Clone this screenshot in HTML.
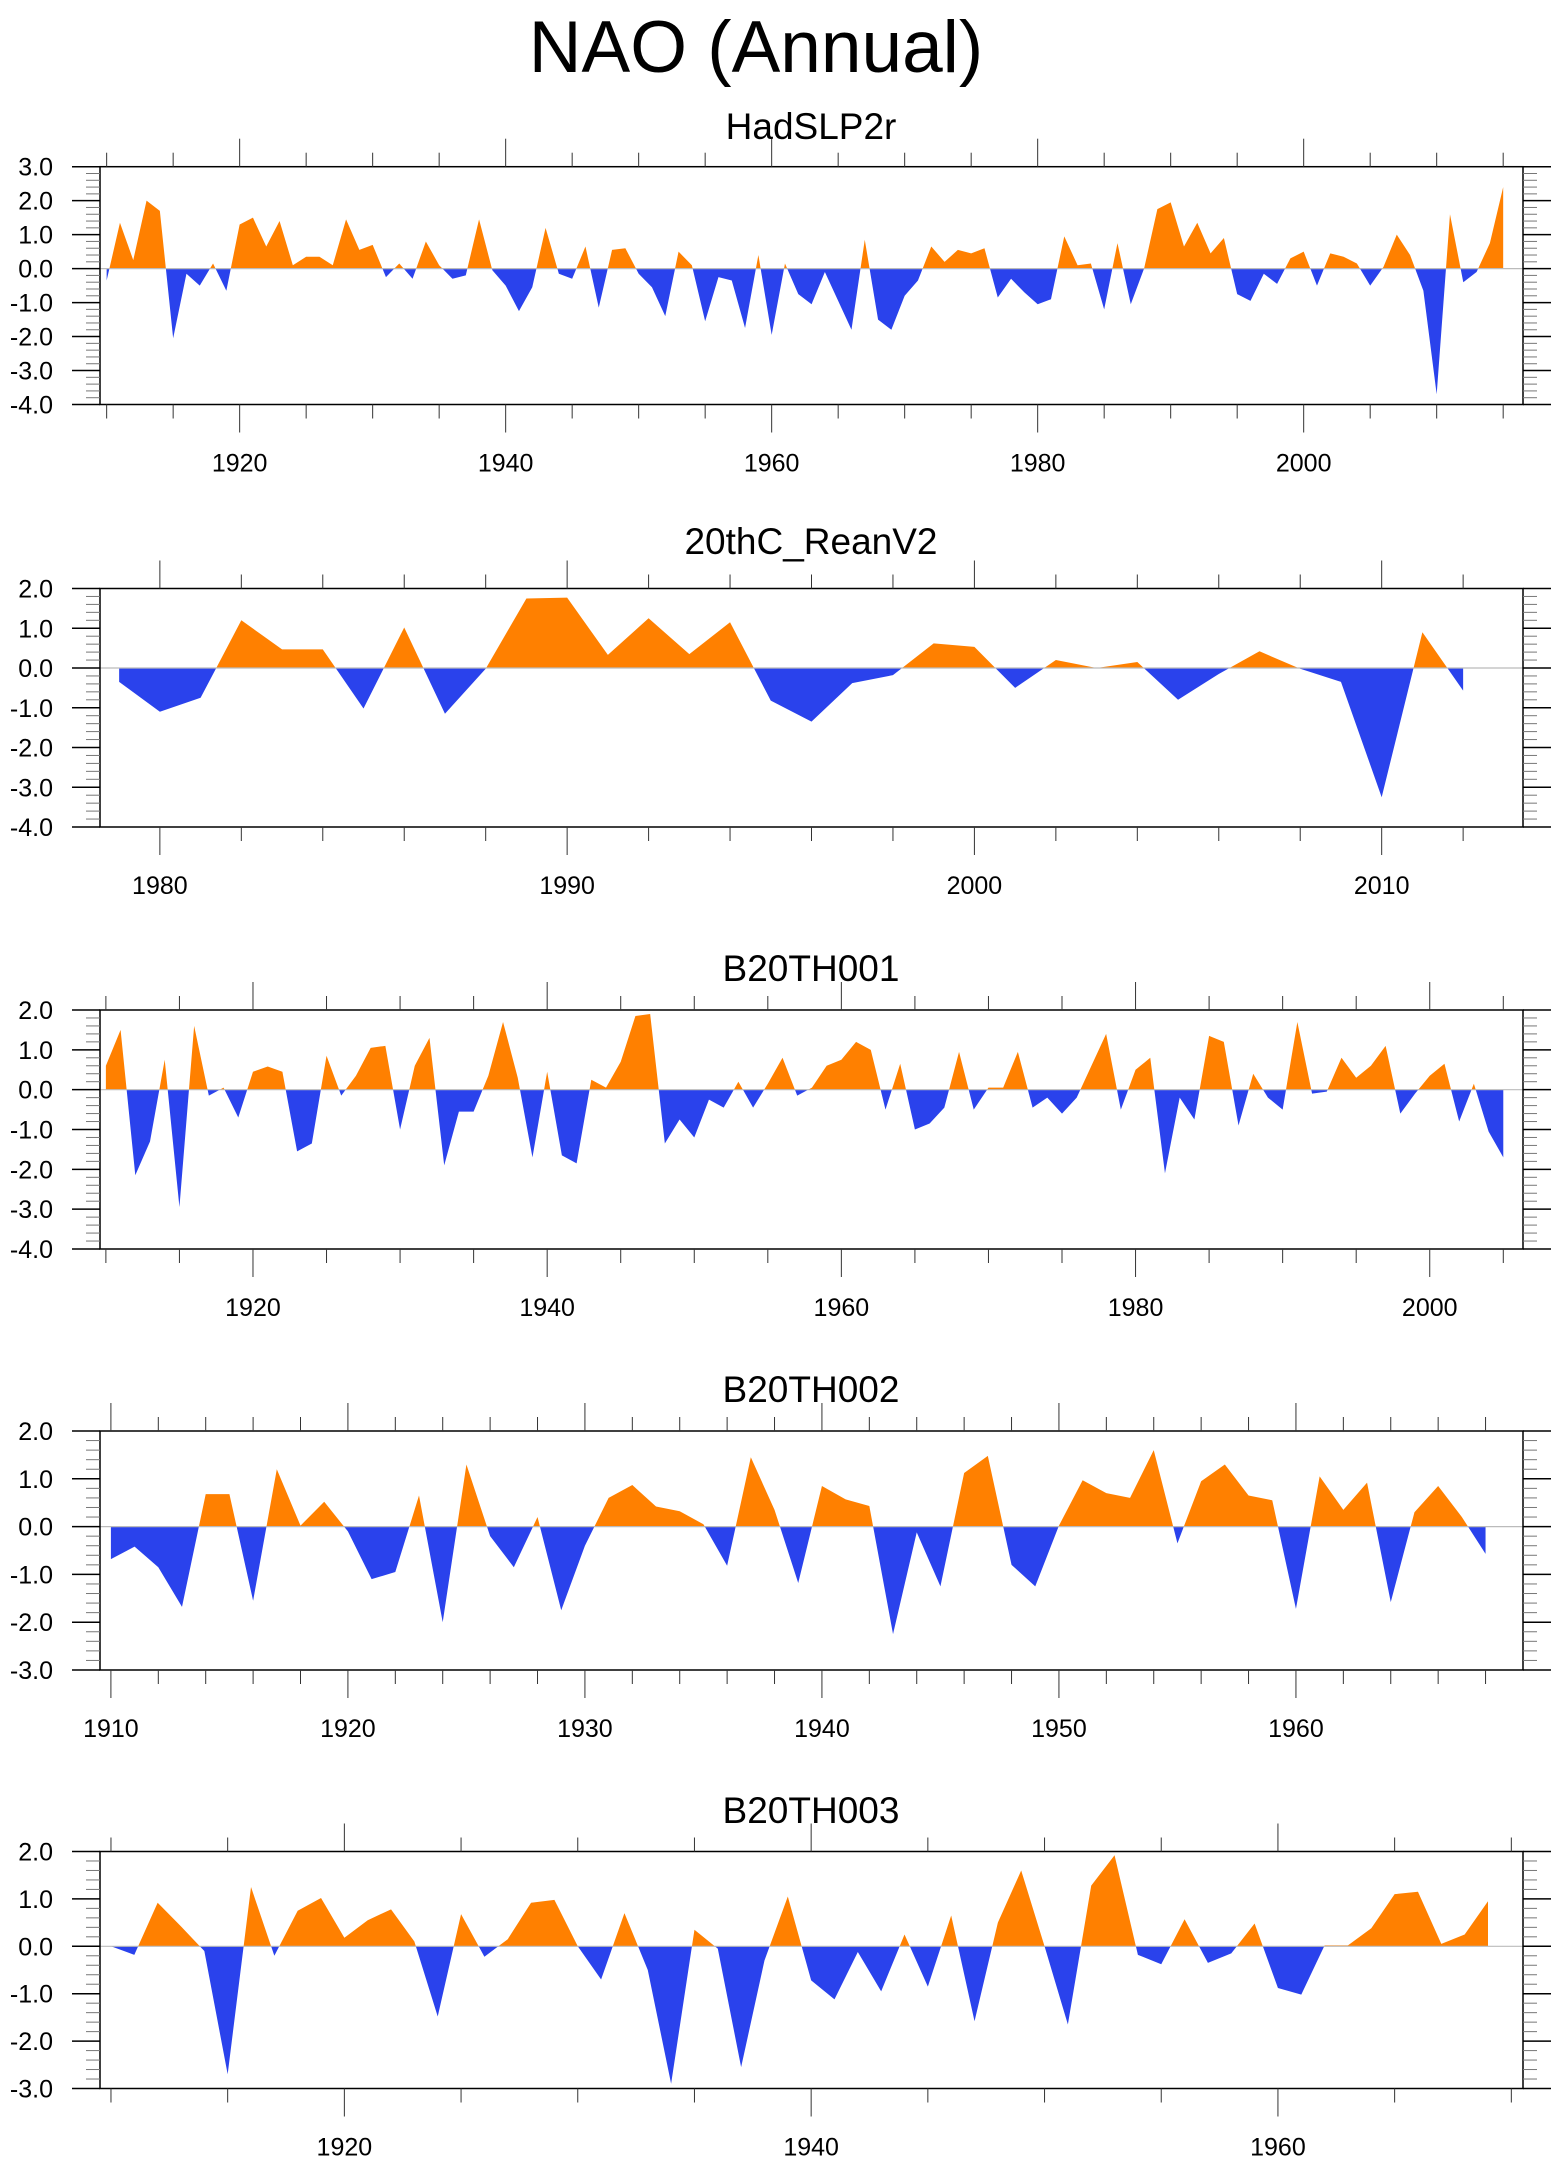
<!DOCTYPE html>
<html><head><meta charset="utf-8"><title>NAO (Annual)</title>
<style>
html,body{margin:0;padding:0;background:#fff;}
svg{display:block;font-family:"Liberation Sans",Arial,sans-serif;}
</style></head>
<body>
<svg id="chart" width="1560" height="2165" viewBox="0 0 1560 2165" xmlns="http://www.w3.org/2000/svg">
<text x="756" y="72" font-size="73" text-anchor="middle" fill="#000">NAO (Annual)</text>
</svg>
<script>
// ---------- data ----------
const hadStart = 1910;
const hadValues = [-0.35,1.35,0.25,2.0,1.7,-2.05,-0.15,-0.5,0.15,-0.65,
1.3,1.5,0.65,1.4,0.1,0.35,0.35,0.1,1.45,0.55,
0.7,-0.25,0.15,-0.3,0.8,0.1,-0.3,-0.2,1.45,-0.05,
-0.5,-1.25,-0.55,1.2,-0.15,-0.3,0.65,-1.15,0.55,0.6,
-0.15,-0.55,-1.4,0.5,0.1,-1.55,-0.25,-0.35,-1.75,0.4,
-1.95,0.15,-0.75,-1.05,-0.1,-0.95,-1.8,0.85,-1.5,-1.8,
-0.8,-0.35,0.65,0.2,0.55,0.45,0.6,-0.85,-0.3,-0.7,
-1.05,-0.9,0.95,0.1,0.15,-1.2,0.75,-1.05,0.0,1.75,
1.95,0.65,1.35,0.45,0.9,-0.75,-0.95,-0.15,-0.45,0.3,
0.5,-0.5,0.45,0.35,0.15,-0.5,0.05,1.0,0.4,-0.65,
-3.7,1.6,-0.4,-0.1,0.75,2.4];

const reanStart = 1979;
const reanValues = [-0.35,-1.1,-0.75,1.2,0.47,0.47,-1.02,1.02,-1.15,-0.02,
1.75,1.77,0.33,1.25,0.35,1.15,-0.82,-1.35,-0.38,-0.18,
0.62,0.53,-0.5,0.2,0.0,0.15,-0.8,-0.15,0.42,-0.02,
-0.35,-3.25,0.9,-0.57];

const b001Start = 1910;
const b001Values = [0.6,1.5,-2.15,-1.3,0.75,-2.95,1.6,-0.15,0.05,-0.7,
0.45,0.58,0.45,-1.55,-1.35,0.85,-0.15,0.35,1.05,1.1,
-1.0,0.6,1.3,-1.9,-0.55,-0.55,0.35,1.7,0.3,-1.7,
0.45,-1.65,-1.85,0.25,0.05,0.7,1.85,1.9,-1.35,-0.75,
-1.2,-0.25,-0.45,0.2,-0.45,0.15,0.8,-0.15,0.05,0.6,
0.75,1.2,1.0,-0.5,0.65,-1.0,-0.85,-0.45,0.95,-0.5,
0.05,0.05,0.95,-0.45,-0.2,-0.6,-0.2,0.6,1.4,-0.5,
0.5,0.8,-2.1,-0.2,-0.75,1.35,1.2,-0.9,0.4,-0.2,
-0.5,1.7,-0.1,-0.05,0.8,0.3,0.6,1.1,-0.6,-0.1,
0.35,0.65,-0.8,0.15,-1.05,-1.7];

const b002Start = 1910;
const b002Values = [-0.68,-0.42,-0.85,-1.68,0.68,0.68,-1.55,1.2,0.02,0.52,
-0.1,-1.1,-0.95,0.65,-2.0,1.3,-0.2,-0.85,0.2,-1.75,
-0.4,0.6,0.87,0.42,0.32,0.05,-0.82,1.45,0.35,-1.18,
0.85,0.57,0.43,-2.25,-0.12,-1.25,1.12,1.48,-0.8,-1.25,
0.02,0.97,0.7,0.6,1.6,-0.35,0.95,1.3,0.65,0.55,
-1.72,1.05,0.35,0.92,-1.58,0.3,0.85,0.2,-0.57];

const b003Start = 1910;
const b003Values = [0.0,-0.18,0.92,0.42,-0.1,-2.7,1.25,-0.2,0.75,1.02,
0.18,0.55,0.78,0.1,-1.48,0.68,-0.22,0.15,0.92,0.98,
0.0,-0.7,0.7,-0.5,-2.9,0.35,-0.05,-2.55,-0.3,1.05,
-0.72,-1.12,-0.12,-0.95,0.25,-0.85,0.65,-1.58,0.5,1.6,
0.0,-1.65,1.28,1.92,-0.18,-0.38,0.57,-0.35,-0.15,0.48,
-0.88,-1.02,0.02,0.02,0.38,1.1,1.15,0.05,0.25,0.95];

const panelTitles = ["HadSLP2r","20thC_ReanV2","B20TH001","B20TH002","B20TH003"];
const yTicksA = [3,2,1,0,-1,-2,-3,-4];
const yTicksB = [2,1,0,-1,-2,-3,-4];
const yTicksC = [2,1,0,-1,-2,-3];
const xLabels20 = [1920,1940,1960,1980,2000];
const xLabels10R = [1980,1990,2000,2010];
const xLabels10B = [1910,1920,1930,1940,1950,1960];
const xLabels20C = [1920,1940,1960];

// ---------- layout ----------
const svg = document.getElementById('chart');
const NS = 'http://www.w3.org/2000/svg';
const L = 100, R = 1523;
const ORANGE = '#ff8000', BLUE = '#2a42ec';
let clipId = 0;

function mk(tag, attrs, parent){
  const e = document.createElementNS(NS, tag);
  for (const k in attrs) e.setAttribute(k, attrs[k]);
  (parent||svg).appendChild(e);
  return e;
}

function drawPanel(cfg){
  const g = mk('g', {});
  
  
  const T = cfg.top, B = cfg.bottom;
  const xs = yr => L + (yr - cfg.xmin) / (cfg.xmax - cfg.xmin) * (R - L);
  const ys = v => T + (cfg.ymax - v) / (cfg.ymax - cfg.ymin) * (B - T);

  const t = mk('text', {x: 811, y: cfg.titleY, 'font-size': 37, 'text-anchor': 'middle', fill: '#000'}, g);
  t.textContent = cfg.title;
  
  

  const vals = cfg.values;
  const y0 = ys(0);
  const xFirst = xs(cfg.start), xLast = xs(cfg.start + vals.length - 1);
  let d = 'M' + xFirst.toFixed(2) + ',' + y0.toFixed(2);
  vals.forEach((v, i) => { d += 'L' + xs(cfg.start + i).toFixed(2) + ',' + ys(v).toFixed(2); });
  d += 'L' + xLast.toFixed(2) + ',' + y0.toFixed(2) + 'Z';

  const defs = mk('defs', {}, g);
  const cA = 'clipA' + (clipId), cB = 'clipB' + (clipId++);
  const cpA = mk('clipPath', {id: cA}, defs);
  mk('rect', {x: 0, y: T - 50, width: 1560, height: y0 - T + 50}, cpA);
  const cpB = mk('clipPath', {id: cB}, defs);
  mk('rect', {x: 0, y: y0, width: 1560, height: B - y0 + 50}, cpB);

  const pos = mk('path', {d: d, fill: ORANGE, 'clip-path': 'url(#' + cA + ')'}, g);
  
  
  const neg = mk('path', {d: d, fill: BLUE, 'clip-path': 'url(#' + cB + ')'}, g);
  
  

  const zl = mk('line', {x1: L, x2: R, y1: y0, y2: y0, stroke: '#bbb', 'stroke-width': 1.2}, g);
  
  

  const fr = mk('rect', {x: L, y: T, width: R - L, height: B - T, fill: 'none', stroke: '#000', 'stroke-width': 1.5}, g);
  
  

  for (let k = 0; k <= Math.round((cfg.ymax - cfg.ymin) * 5); k++){
    const vr = cfg.ymin + k * 0.2;
    const major = k % 5 === 0;
    const y = ys(vr);
    const len = major ? 28 : 14;
    mk('line', {x1: L - len, x2: L, y1: y, y2: y, stroke: major ? '#000' : '#777', 'stroke-width': major ? 1.5 : 1}, g);
    mk('line', {x1: R, x2: R + len, y1: y, y2: y, stroke: major ? '#000' : '#777', 'stroke-width': major ? 1.5 : 1}, g);
  }
  cfg.yTicks.forEach(v => {
    const lb = mk('text', {x: 53, y: ys(v) + 9, 'font-size': 25, 'text-anchor': 'end', fill: '#000'}, g);
    lb.textContent = v.toFixed(1);
    
    
  });

  const first = Math.ceil(cfg.xmin / cfg.minor) * cfg.minor;
  for (let yr = first; yr <= cfg.xmax; yr += cfg.minor){
    const major = yr % cfg.major === 0;
    const x = xs(yr);
    const len = major ? 28 : 14;
    mk('line', {x1: x, x2: x, y1: T - len, y2: T, stroke: '#333', 'stroke-width': 1}, g);
    mk('line', {x1: x, x2: x, y1: B, y2: B + len, stroke: '#333', 'stroke-width': 1}, g);
  }
  cfg.xLabels.forEach(yr => {
    const lb = mk('text', {x: xs(yr), y: B + 67, 'font-size': 25, 'text-anchor': 'middle', fill: '#000'}, g);
    lb.textContent = String(yr);
    
    
  });
}

drawPanel({name:'panel-hadslp2r', title: panelTitles[0], titleY:139, top:166.7, bottom:404.5,
  ymin:-4, ymax:3, yTicks:yTicksA, xmin:1909.50, xmax:2016.49, major:20, minor:5, xLabels:xLabels20,
  start:hadStart, values:hadValues});
drawPanel({name:'panel-20thc-reanv2', title: panelTitles[1], titleY:554, top:588.5, bottom:827,
  ymin:-4, ymax:2, yTicks:yTicksB, xmin:1978.53, xmax:2013.47, major:10, minor:2, xLabels:xLabels10R,
  start:reanStart, values:reanValues});
drawPanel({name:'panel-b20th001', title: panelTitles[2], titleY:981, top:1010, bottom:1249,
  ymin:-4, ymax:2, yTicks:yTicksB, xmin:1909.60, xmax:2006.34, major:20, minor:5, xLabels:xLabels20,
  start:b001Start, values:b001Values});
drawPanel({name:'panel-b20th002', title: panelTitles[3], titleY:1402, top:1431, bottom:1670,
  ymin:-3, ymax:2, yTicks:yTicksC, xmin:1909.54, xmax:1969.58, major:10, minor:2, xLabels:xLabels10B,
  start:b002Start, values:b002Values});
drawPanel({name:'panel-b20th003', title: panelTitles[4], titleY:1823, top:1851.5, bottom:2088.5,
  ymin:-3, ymax:2, yTicks:yTicksC, xmin:1909.53, xmax:1970.50, major:20, minor:5, xLabels:xLabels20C,
  start:b003Start, values:b003Values});
</script>
</body></html>
